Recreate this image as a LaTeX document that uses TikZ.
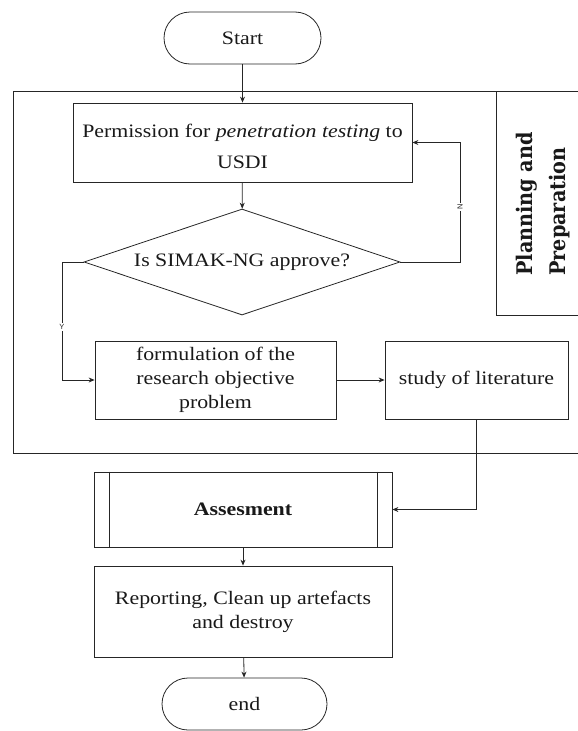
\documentclass[tikz,border=0pt]{standalone}
\usepackage{fontspec}
\setmainfont{Liberation Serif}[FakeStretch=1.15]
\newfontfamily\planfont{DejaVu Serif}
\newfontfamily\labfont{Liberation Sans}
\usetikzlibrary{shapes.geometric,arrows.meta}
\begin{document}
\begin{tikzpicture}[x=1pt,y=-1pt,
  ln/.style={draw=black!85, line width=0.8pt},
  box/.style={ln, rectangle, inner sep=0pt, align=center, text=black!90,
    font=\fontsize{19}{24}\selectfont},
  term/.style={box, rounded corners=26pt, minimum height=52pt},
  arr/.style={ln, -{Stealth[length=6pt,width=5pt]}},
  lab/.style={fill=white, inner sep=1pt, font=\labfont\fontsize{7.5}{8}\selectfont, text=black!85}]
\useasboundingbox (0,0) rectangle (578,731);
\clip (0,0) rectangle (578,731);
% frames
\draw[ln] (13,91) rectangle (600,453);
\draw[ln] (496,91) rectangle (600,315);
\node[rotate=90, align=left, inner sep=0pt, text=black!90] (plan) at (542,204)
  {\scalebox{1}[1.12]{\planfont\bfseries\fontsize{19.2}{29.5}\selectfont
   \begin{tabular}{@{}l@{}}Planning and\\Preparation\end{tabular}}};
% nodes
\node[term, minimum width=157pt] (start) at (242.5,38) {Start};
\node[box, minimum width=339pt, minimum height=79pt,
  font=\fontsize{19}{31}\selectfont] (perm) at (242.5,142.5)
  {\rule{0pt}{22pt}Permission for \textit{penetration testing} to\\USDI};
\node[ln, diamond, aspect=3, inner sep=0pt, minimum width=316pt, minimum height=106pt,
  font=\fontsize{19}{24}\selectfont, text=black!90] (dec) at (242,262) {Is SIMAK-NG approve?};
\node[box, minimum width=241pt, minimum height=78pt] (form) at (215.5,380)
  {formulation of the\\research objective\\problem};
\node[box, minimum width=183pt, minimum height=78pt] (study) at (476.5,380)
  {study of literature};
\node[box, minimum width=298pt, minimum height=75pt] (assess) at (243,509.5)
  {\bfseries Assesment};
\draw[ln] ([xshift=16pt]assess.north west) -- ([xshift=16pt]assess.south west);
\draw[ln] ([xshift=-15pt]assess.north east) -- ([xshift=-15pt]assess.south east);
\node[box, minimum width=298pt, minimum height=91pt] (report) at (243,611.5)
  {Reporting, Clean up artefacts\\and destroy};
\node[term, minimum width=165pt] (end) at (244.5,704) {end};
% connectors
\coordinate (nx) at (460,0);
\coordinate (yx) at (62,0);
\draw[arr] (start) -- (perm);
\draw[arr] (perm) -- (dec);
\draw[arr] (dec.east) -- (dec.east -| nx) -- (perm.east -| nx) -- (perm.east);
\node[lab, rotate=90] (nlab) at (460,207) {N};
\draw[arr] (dec.west) -- (dec.west -| yx) -- (form.west -| yx) -- (form.west);
\node[lab] (ylab) at (62,327) {Y};
\draw[arr] (form) -- (study);
\draw[arr] (study.south) -- (study.south |- assess.east) -- (assess.east);
\draw[arr] (assess) -- (report);
\draw[arr] (report) -- (end);
\end{tikzpicture}
\end{document}
